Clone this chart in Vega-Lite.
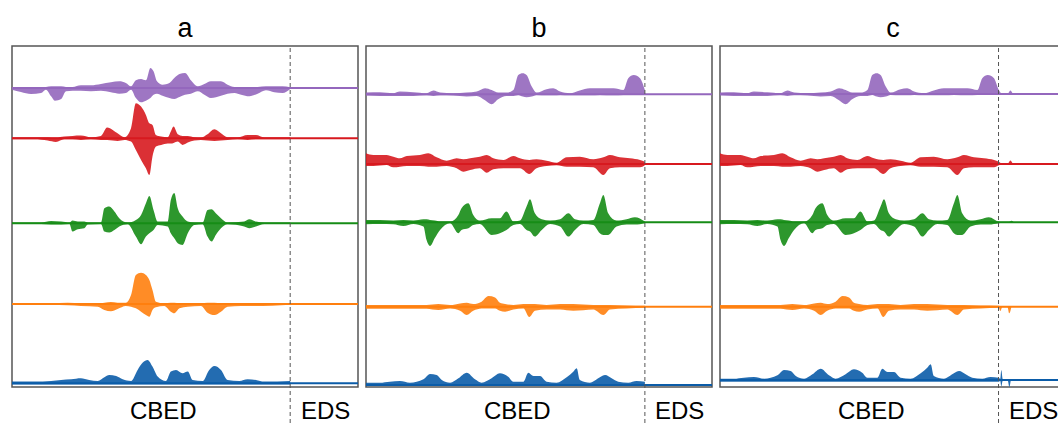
{
"$schema":"https://vega.github.io/schema/vega-lite/v6.json",
"padding":{"left":10,"top":15,"right":0,"bottom":0},
"background":"white",
"bounds":"flush",
"data":{"values":[
{"p":"a","s":"pu","b":299},{"p":"a","s":"re","b":248.7},{"p":"a","s":"gr","b":163.7},{"p":"a","s":"or","b":83},{"p":"a","s":"bl","b":3.7},
{"p":"b","s":"pu","b":292.7},{"p":"b","s":"re","b":223},{"p":"b","s":"gr","b":164.7},{"p":"b","s":"or","b":80.3},{"p":"b","s":"bl","b":2},
{"p":"c","s":"pu","b":293},{"p":"c","s":"re","b":223},{"p":"c","s":"gr","b":164.7},{"p":"c","s":"or","b":80.3},{"p":"c","s":"bl","b":7},
{"p":"a","d":80.4},{"p":"b","d":80.6},{"p":"c","d":80.5},
{"p":"a","s":"pu","x":0,"h":300,"l":297.3},{"p":"a","s":"pu","x":2.6,"h":300,"l":295},{"p":"a","s":"pu","x":5.5,"h":299,"l":293},{"p":"a","s":"pu","x":8.4,"h":299.7,"l":294},{"p":"a","s":"pu","x":9.8,"h":300,"l":297.3},{"p":"a","s":"pu","x":11.3,"h":300.7,"l":290.7},{"p":"a","s":"pu","x":12.4,"h":300.7,"l":286.3},{"p":"a","s":"pu","x":14.2,"h":300.7,"l":288},{"p":"a","s":"pu","x":15.6,"h":300,"l":295.7},{"p":"a","s":"pu","x":17.5,"h":300,"l":296.3},{"p":"a","s":"pu","x":19.9,"h":301.7,"l":296.3},{"p":"a","s":"pu","x":22.8,"h":301.7,"l":295.7},{"p":"a","s":"pu","x":25.7,"h":303,"l":296.3},{"p":"a","s":"pu","x":28.6,"h":304.7,"l":294.7},{"p":"a","s":"pu","x":31,"h":305.7,"l":293.3},{"p":"a","s":"pu","x":32.9,"h":304,"l":294},{"p":"a","s":"pu","x":34.4,"h":300.7,"l":297.3},{"p":"a","s":"pu","x":35.8,"h":306.7,"l":289},{"p":"a","s":"pu","x":37.3,"h":308,"l":284.7},{"p":"a","s":"pu","x":38.7,"h":306.7,"l":286.3},{"p":"a","s":"pu","x":40,"h":319,"l":289},{"p":"a","s":"pu","x":40.9,"h":315.7,"l":292.3},{"p":"a","s":"pu","x":41.9,"h":305.7,"l":293.3},{"p":"a","s":"pu","x":43.5,"h":302.3,"l":291.3},{"p":"a","s":"pu","x":45.5,"h":304,"l":289},{"p":"a","s":"pu","x":46.9,"h":309,"l":288},{"p":"a","s":"pu","x":48.4,"h":313,"l":290},{"p":"a","s":"pu","x":50,"h":314,"l":292.3},{"p":"a","s":"pu","x":51.7,"h":306.7,"l":293.3},{"p":"a","s":"pu","x":53.7,"h":300.7,"l":295.7},{"p":"a","s":"pu","x":55.6,"h":303,"l":292.3},{"p":"a","s":"pu","x":57.5,"h":305.7,"l":289},{"p":"a","s":"pu","x":60.4,"h":305.7,"l":291.3},{"p":"a","s":"pu","x":62.3,"h":302.3,"l":293.3},{"p":"a","s":"pu","x":64.3,"h":300,"l":294},{"p":"a","s":"pu","x":66.2,"h":299.7,"l":292.3},{"p":"a","s":"pu","x":68.6,"h":300,"l":290.7},{"p":"a","s":"pu","x":71,"h":300,"l":293.3},{"p":"a","s":"pu","x":73.4,"h":300.7,"l":296.7},{"p":"a","s":"pu","x":75.8,"h":300.7,"l":294.7},{"p":"a","s":"pu","x":78.2,"h":300.7,"l":294},{"p":"a","s":"pu","x":80.4,"h":299.7,"l":298},
{"p":"a","s":"re","x":0,"h":249.7,"l":247.7},{"p":"a","s":"re","x":6.5,"h":249.7,"l":247.7},{"p":"a","s":"re","x":10.3,"h":249.7,"l":246.4},{"p":"a","s":"re","x":12.7,"h":249.4,"l":245},{"p":"a","s":"re","x":15.1,"h":250.4,"l":247.7},{"p":"a","s":"re","x":17.5,"h":251.1,"l":247.7},{"p":"a","s":"re","x":19.9,"h":251.4,"l":247.1},{"p":"a","s":"re","x":22.8,"h":249.7,"l":247.7},{"p":"a","s":"re","x":25.7,"h":251.1,"l":247.1},{"p":"a","s":"re","x":27.5,"h":259.4,"l":247.1},{"p":"a","s":"re","x":29.1,"h":257.1,"l":246.4},{"p":"a","s":"re","x":30.5,"h":253.7,"l":246.1},{"p":"a","s":"re","x":32.5,"h":249.7,"l":247.1},{"p":"a","s":"re","x":34.4,"h":258.7,"l":245.4},{"p":"a","s":"re","x":35.8,"h":283.7,"l":237},{"p":"a","s":"re","x":37.3,"h":280.4,"l":227},{"p":"a","s":"re","x":38.7,"h":272.1,"l":218.7},{"p":"a","s":"re","x":39.7,"h":263.7,"l":212},{"p":"a","s":"re","x":40.6,"h":262.1,"l":230.4},{"p":"a","s":"re","x":41.6,"h":252,"l":240.4},{"p":"a","s":"re","x":43.1,"h":250.4,"l":242},{"p":"a","s":"re","x":45,"h":249.7,"l":243.4},{"p":"a","s":"re","x":45.9,"h":255.4,"l":243.4},{"p":"a","s":"re","x":46.7,"h":260.4,"l":244},{"p":"a","s":"re","x":47.9,"h":252.7,"l":245.4},{"p":"a","s":"re","x":49.3,"h":251.1,"l":242},{"p":"a","s":"re","x":50.8,"h":251.1,"l":244.4},{"p":"a","s":"re","x":52.7,"h":249.7,"l":246.4},{"p":"a","s":"re","x":54.6,"h":249.4,"l":247.1},{"p":"a","s":"re","x":56.5,"h":252.7,"l":246.4},{"p":"a","s":"re","x":58.5,"h":257.7,"l":246.1},{"p":"a","s":"re","x":60.4,"h":253.7,"l":246.4},{"p":"a","s":"re","x":62.3,"h":249.7,"l":247.1},{"p":"a","s":"re","x":65.2,"h":249.7,"l":247.7},{"p":"a","s":"re","x":68.1,"h":252.1,"l":247.1},{"p":"a","s":"re","x":70.5,"h":252.1,"l":247.7},{"p":"a","s":"re","x":72.9,"h":249.7,"l":247.7},{"p":"a","s":"re","x":80.4,"h":249.7,"l":247.7},
{"p":"a","s":"gr","x":0,"h":164.4,"l":163},{"p":"a","s":"gr","x":8.4,"h":164.4,"l":163},{"p":"a","s":"gr","x":11.3,"h":166,"l":162.4},{"p":"a","s":"gr","x":14.2,"h":165.4,"l":162.4},{"p":"a","s":"gr","x":16.6,"h":164.4,"l":163},{"p":"a","s":"gr","x":17.5,"h":166.4,"l":155.4},{"p":"a","s":"gr","x":19,"h":165.4,"l":157.7},{"p":"a","s":"gr","x":20.9,"h":165.4,"l":158.7},{"p":"a","s":"gr","x":21.9,"h":164.4,"l":162.4},{"p":"a","s":"gr","x":25.7,"h":164.4,"l":163},{"p":"a","s":"gr","x":26.7,"h":178.7,"l":155.4},{"p":"a","s":"gr","x":28.1,"h":180.4,"l":154.4},{"p":"a","s":"gr","x":29.6,"h":175.4,"l":157},{"p":"a","s":"gr","x":31,"h":168.7,"l":160.4},{"p":"a","s":"gr","x":33.4,"h":164.4,"l":162.7},{"p":"a","s":"gr","x":35.8,"h":167,"l":150.4},{"p":"a","s":"gr","x":37.3,"h":172,"l":142.7},{"p":"a","s":"gr","x":38.7,"h":183.7,"l":150.4},{"p":"a","s":"gr","x":39.7,"h":191,"l":153.7},{"p":"a","s":"gr","x":40.9,"h":177,"l":157},{"p":"a","s":"gr","x":42.1,"h":165.4,"l":162},{"p":"a","s":"gr","x":45,"h":165.4,"l":160.4},{"p":"a","s":"gr","x":45.9,"h":187,"l":153.7},{"p":"a","s":"gr","x":46.9,"h":194,"l":148.7},{"p":"a","s":"gr","x":47.9,"h":178.7,"l":143.7},{"p":"a","s":"gr","x":49.3,"h":170.4,"l":142},{"p":"a","s":"gr","x":50.8,"h":165.4,"l":153.7},{"p":"a","s":"gr","x":52.7,"h":164.4,"l":162},{"p":"a","s":"gr","x":55.1,"h":164.4,"l":162.7},{"p":"a","s":"gr","x":56.5,"h":177,"l":150.4},{"p":"a","s":"gr","x":57.7,"h":177.7,"l":145.4},{"p":"a","s":"gr","x":58.9,"h":173.7,"l":152},{"p":"a","s":"gr","x":60.4,"h":168.7,"l":158.7},{"p":"a","s":"gr","x":62.3,"h":164.4,"l":162.7},{"p":"a","s":"gr","x":67.1,"h":165.4,"l":160.4},{"p":"a","s":"gr","x":68.6,"h":167.7,"l":158.7},{"p":"a","s":"gr","x":70.5,"h":165.4,"l":160.4},{"p":"a","s":"gr","x":72.9,"h":164.4,"l":163},{"p":"a","s":"gr","x":80.4,"h":164.4,"l":163},
{"p":"a","s":"or","x":0,"h":83.7,"l":82.3},{"p":"a","s":"or","x":11.3,"h":83.7,"l":82.3},{"p":"a","s":"or","x":16.1,"h":84.3,"l":81.7},{"p":"a","s":"or","x":19.9,"h":83.7,"l":81},{"p":"a","s":"or","x":24.8,"h":83.7,"l":80.3},{"p":"a","s":"or","x":26.7,"h":84.3,"l":77},{"p":"a","s":"or","x":28.6,"h":85,"l":75.7},{"p":"a","s":"or","x":30.5,"h":84.3,"l":78},{"p":"a","s":"or","x":32.9,"h":84.3,"l":81},{"p":"a","s":"or","x":34.4,"h":92,"l":80.3},{"p":"a","s":"or","x":35.8,"h":112,"l":78.7},{"p":"a","s":"or","x":37.3,"h":114.3,"l":75.3},{"p":"a","s":"or","x":38.7,"h":112,"l":72},{"p":"a","s":"or","x":39.7,"h":107,"l":70.3},{"p":"a","s":"or","x":40.6,"h":97,"l":77},{"p":"a","s":"or","x":41.6,"h":85.3,"l":79.7},{"p":"a","s":"or","x":44,"h":83.7,"l":81},{"p":"a","s":"or","x":45.9,"h":84.3,"l":75.3},{"p":"a","s":"or","x":46.9,"h":84.3,"l":73.7},{"p":"a","s":"or","x":48.4,"h":83.7,"l":78.7},{"p":"a","s":"or","x":50.8,"h":83.7,"l":80.3},{"p":"a","s":"or","x":54.6,"h":83.7,"l":81},{"p":"a","s":"or","x":56.5,"h":84.3,"l":74.3},{"p":"a","s":"or","x":58.5,"h":84.3,"l":72},{"p":"a","s":"or","x":60.4,"h":83.7,"l":75.3},{"p":"a","s":"or","x":62.3,"h":83.7,"l":80.3},{"p":"a","s":"or","x":66.2,"h":83.7,"l":81},{"p":"a","s":"or","x":70,"h":83.7,"l":81},{"p":"a","s":"or","x":80.4,"h":83.7,"l":82.3},
{"p":"a","s":"bl","x":0,"h":5.4,"l":2.5},{"p":"a","s":"bl","x":6.5,"h":5.4,"l":2.5},{"p":"a","s":"bl","x":11.3,"h":6,"l":2.5},{"p":"a","s":"bl","x":14.2,"h":7,"l":2.5},{"p":"a","s":"bl","x":17.1,"h":7.7,"l":2.5},{"p":"a","s":"bl","x":19.9,"h":8.7,"l":2.5},{"p":"a","s":"bl","x":22.3,"h":7,"l":2.5},{"p":"a","s":"bl","x":24.8,"h":6,"l":2.5},{"p":"a","s":"bl","x":26.7,"h":9.7,"l":2.5},{"p":"a","s":"bl","x":28.1,"h":12,"l":2.5},{"p":"a","s":"bl","x":30.1,"h":11,"l":2.5},{"p":"a","s":"bl","x":32,"h":7.7,"l":2.5},{"p":"a","s":"bl","x":34.4,"h":6,"l":2.5},{"p":"a","s":"bl","x":36.3,"h":17,"l":2.5},{"p":"a","s":"bl","x":37.8,"h":24.4,"l":2.5},{"p":"a","s":"bl","x":39.2,"h":27,"l":2.5},{"p":"a","s":"bl","x":40.6,"h":20.4,"l":2.5},{"p":"a","s":"bl","x":42.1,"h":10.4,"l":2.5},{"p":"a","s":"bl","x":44.5,"h":6,"l":2.5},{"p":"a","s":"bl","x":45.9,"h":15.4,"l":2.5},{"p":"a","s":"bl","x":47.4,"h":17,"l":2.5},{"p":"a","s":"bl","x":49.3,"h":13.7,"l":2.5},{"p":"a","s":"bl","x":50.8,"h":15.4,"l":2.5},{"p":"a","s":"bl","x":52.2,"h":7,"l":2.5},{"p":"a","s":"bl","x":55.1,"h":6,"l":2.5},{"p":"a","s":"bl","x":57,"h":17,"l":2.5},{"p":"a","s":"bl","x":58.5,"h":21,"l":2.5},{"p":"a","s":"bl","x":60.4,"h":17,"l":2.5},{"p":"a","s":"bl","x":62.3,"h":7,"l":2.5},{"p":"a","s":"bl","x":65.7,"h":6,"l":2.5},{"p":"a","s":"bl","x":68.1,"h":7.7,"l":2.5},{"p":"a","s":"bl","x":70.5,"h":7,"l":2.5},{"p":"a","s":"bl","x":72.9,"h":5.4,"l":2.5},{"p":"a","s":"bl","x":80.4,"h":6,"l":2.5},
{"p":"b","s":"pu","x":0,"h":294.4,"l":291.4},{"p":"b","s":"pu","x":4,"h":294.7,"l":291},{"p":"b","s":"pu","x":7.9,"h":293.7,"l":291},{"p":"b","s":"pu","x":9.8,"h":295.4,"l":291},{"p":"b","s":"pu","x":13.7,"h":294.7,"l":291},{"p":"b","s":"pu","x":17.5,"h":293.7,"l":291.7},{"p":"b","s":"pu","x":19.5,"h":296.4,"l":291},{"p":"b","s":"pu","x":21.4,"h":294.4,"l":291.7},{"p":"b","s":"pu","x":25.2,"h":293.7,"l":291.4},{"p":"b","s":"pu","x":29.1,"h":294.4,"l":290.4},{"p":"b","s":"pu","x":32,"h":295.4,"l":291},{"p":"b","s":"pu","x":34.4,"h":298.7,"l":286.7},{"p":"b","s":"pu","x":36.3,"h":297,"l":282.7},{"p":"b","s":"pu","x":38.2,"h":294.4,"l":287.7},{"p":"b","s":"pu","x":40.6,"h":294.4,"l":291},{"p":"b","s":"pu","x":42.6,"h":297,"l":291},{"p":"b","s":"pu","x":44,"h":312,"l":292},{"p":"b","s":"pu","x":45.3,"h":313.7,"l":290.4},{"p":"b","s":"pu","x":46.4,"h":312,"l":289.7},{"p":"b","s":"pu","x":47.9,"h":300.4,"l":290.4},{"p":"b","s":"pu","x":49.3,"h":294.4,"l":292},{"p":"b","s":"pu","x":52.2,"h":297.7,"l":291.7},{"p":"b","s":"pu","x":54.1,"h":298.7,"l":291.7},{"p":"b","s":"pu","x":56.1,"h":295.4,"l":292},{"p":"b","s":"pu","x":58.9,"h":293.7,"l":291.7},{"p":"b","s":"pu","x":61.8,"h":296.4,"l":291.7},{"p":"b","s":"pu","x":64.7,"h":298.7,"l":291.7},{"p":"b","s":"pu","x":67.6,"h":298.7,"l":292},{"p":"b","s":"pu","x":71.5,"h":298.7,"l":291.7},{"p":"b","s":"pu","x":74.4,"h":297,"l":292},{"p":"b","s":"pu","x":75.8,"h":308.7,"l":292},{"p":"b","s":"pu","x":77.4,"h":312,"l":293},{"p":"b","s":"pu","x":79.2,"h":308.7,"l":293},{"p":"b","s":"pu","x":80.6,"h":297,"l":292},
{"p":"b","s":"re","x":0,"h":233.7,"l":221},{"p":"b","s":"re","x":2.1,"h":232,"l":221},{"p":"b","s":"re","x":5.9,"h":232,"l":222},{"p":"b","s":"re","x":7.9,"h":230.3,"l":219.7},{"p":"b","s":"re","x":9.8,"h":228.7,"l":220.3},{"p":"b","s":"re","x":11.8,"h":231,"l":221},{"p":"b","s":"re","x":15.6,"h":232,"l":221},{"p":"b","s":"re","x":18,"h":233.7,"l":220.3},{"p":"b","s":"re","x":20.4,"h":229.7,"l":220.3},{"p":"b","s":"re","x":23.3,"h":226.3,"l":221},{"p":"b","s":"re","x":26.2,"h":228.7,"l":218.7},{"p":"b","s":"re","x":28.1,"h":227.7,"l":215.3},{"p":"b","s":"re","x":30.1,"h":228.7,"l":217},{"p":"b","s":"re","x":32.9,"h":230.3,"l":218.7},{"p":"b","s":"re","x":34.9,"h":232,"l":214.3},{"p":"b","s":"re","x":36.8,"h":228.7,"l":217.7},{"p":"b","s":"re","x":39.7,"h":227,"l":218.7},{"p":"b","s":"re","x":42.6,"h":231,"l":218.7},{"p":"b","s":"re","x":44.5,"h":228.7,"l":218.7},{"p":"b","s":"re","x":47.2,"h":227,"l":213},{"p":"b","s":"re","x":49.3,"h":227.7,"l":218.7},{"p":"b","s":"re","x":52.2,"h":226.3,"l":221},{"p":"b","s":"re","x":55.1,"h":224.3,"l":221.7},{"p":"b","s":"re","x":58,"h":229.7,"l":220.3},{"p":"b","s":"re","x":61.8,"h":230.3,"l":220.3},{"p":"b","s":"re","x":65.7,"h":227.7,"l":219.7},{"p":"b","s":"re","x":68.6,"h":229.7,"l":212},{"p":"b","s":"re","x":70.5,"h":232,"l":218.7},{"p":"b","s":"re","x":73.4,"h":229.7,"l":219.7},{"p":"b","s":"re","x":76.3,"h":228.7,"l":219.7},{"p":"b","s":"re","x":79.2,"h":227,"l":219.7},{"p":"b","s":"re","x":80.6,"h":225.3,"l":221.7},
{"p":"b","s":"gr","x":0,"h":167,"l":162.7},{"p":"b","s":"gr","x":4,"h":167,"l":163},{"p":"b","s":"gr","x":7.9,"h":166.4,"l":162.7},{"p":"b","s":"gr","x":10.8,"h":167,"l":161},{"p":"b","s":"gr","x":13.7,"h":166.4,"l":163},{"p":"b","s":"gr","x":16.6,"h":167.7,"l":160.4},{"p":"b","s":"gr","x":17.5,"h":167.7,"l":147},{"p":"b","s":"gr","x":18.5,"h":167,"l":141},{"p":"b","s":"gr","x":19.9,"h":166.4,"l":149},{"p":"b","s":"gr","x":21.4,"h":165.4,"l":157},{"p":"b","s":"gr","x":24.3,"h":165.4,"l":163.7},{"p":"b","s":"gr","x":26.7,"h":172,"l":153.7},{"p":"b","s":"gr","x":27.6,"h":178.7,"l":157},{"p":"b","s":"gr","x":29.6,"h":183.7,"l":158.7},{"p":"b","s":"gr","x":31,"h":172,"l":162},{"p":"b","s":"gr","x":32.9,"h":166.4,"l":163},{"p":"b","s":"gr","x":36.3,"h":168.7,"l":152},{"p":"b","s":"gr","x":38.7,"h":168.7,"l":153.7},{"p":"b","s":"gr","x":40.6,"h":175.4,"l":157},{"p":"b","s":"gr","x":42.6,"h":165.4,"l":162},{"p":"b","s":"gr","x":44.5,"h":166.4,"l":163},{"p":"b","s":"gr","x":46.4,"h":180.4,"l":157},{"p":"b","s":"gr","x":47.4,"h":187.7,"l":155.4},{"p":"b","s":"gr","x":48.8,"h":173.7,"l":150.4},{"p":"b","s":"gr","x":50.8,"h":167.7,"l":157},{"p":"b","s":"gr","x":53.2,"h":166.4,"l":163},{"p":"b","s":"gr","x":56.1,"h":167.7,"l":160.4},{"p":"b","s":"gr","x":58.5,"h":173.7,"l":150.4},{"p":"b","s":"gr","x":60.4,"h":167.7,"l":157},{"p":"b","s":"gr","x":62.8,"h":166.4,"l":163},{"p":"b","s":"gr","x":65.7,"h":167,"l":162},{"p":"b","s":"gr","x":67.6,"h":183.7,"l":153.7},{"p":"b","s":"gr","x":68.6,"h":192,"l":152},{"p":"b","s":"gr","x":70,"h":173.7,"l":152},{"p":"b","s":"gr","x":72.4,"h":166.4,"l":160.4},{"p":"b","s":"gr","x":75.3,"h":167.7,"l":162.4},{"p":"b","s":"gr","x":77.7,"h":169.7,"l":162.4},{"p":"b","s":"gr","x":80.6,"h":165.4,"l":163.7},
{"p":"b","s":"or","x":0,"h":82,"l":78.3},{"p":"b","s":"or","x":7.9,"h":82,"l":78.3},{"p":"b","s":"or","x":17.5,"h":82,"l":78.3},{"p":"b","s":"or","x":20.9,"h":83,"l":77},{"p":"b","s":"or","x":24.3,"h":82,"l":78.6},{"p":"b","s":"or","x":27.2,"h":83.6,"l":76.3},{"p":"b","s":"or","x":29.1,"h":84.3,"l":72},{"p":"b","s":"or","x":31,"h":83,"l":76.3},{"p":"b","s":"or","x":33.4,"h":85.3,"l":78.6},{"p":"b","s":"or","x":35.4,"h":91,"l":78.6},{"p":"b","s":"or","x":37.3,"h":89.6,"l":78.6},{"p":"b","s":"or","x":38.7,"h":84.3,"l":76.3},{"p":"b","s":"or","x":40.2,"h":83,"l":75.3},{"p":"b","s":"or","x":42.6,"h":82,"l":77.6},{"p":"b","s":"or","x":45.5,"h":83,"l":78.6},{"p":"b","s":"or","x":47.2,"h":83,"l":70},{"p":"b","s":"or","x":48.8,"h":83,"l":76.3},{"p":"b","s":"or","x":52.2,"h":82,"l":77.6},{"p":"b","s":"or","x":56.1,"h":83,"l":77.6},{"p":"b","s":"or","x":59.9,"h":83,"l":76.3},{"p":"b","s":"or","x":65.7,"h":82,"l":77.6},{"p":"b","s":"or","x":68.6,"h":82,"l":72},{"p":"b","s":"or","x":70.5,"h":82,"l":77.6},{"p":"b","s":"or","x":75.3,"h":81.6,"l":78.6},{"p":"b","s":"or","x":80.6,"h":81.3,"l":79.3},
{"p":"b","s":"bl","x":0,"h":4.3,"l":1},{"p":"b","s":"bl","x":4,"h":4.3,"l":1},{"p":"b","s":"bl","x":6.9,"h":5.3,"l":1},{"p":"b","s":"bl","x":9.8,"h":6,"l":1},{"p":"b","s":"bl","x":12.7,"h":4.3,"l":1},{"p":"b","s":"bl","x":16.6,"h":7.7,"l":1},{"p":"b","s":"bl","x":18.5,"h":13,"l":1},{"p":"b","s":"bl","x":20.4,"h":12,"l":1},{"p":"b","s":"bl","x":21.9,"h":7,"l":1},{"p":"b","s":"bl","x":24.3,"h":4.3,"l":1},{"p":"b","s":"bl","x":26.7,"h":8.7,"l":1},{"p":"b","s":"bl","x":29.1,"h":14.3,"l":1},{"p":"b","s":"bl","x":31.5,"h":7.7,"l":1},{"p":"b","s":"bl","x":33.4,"h":4.3,"l":1},{"p":"b","s":"bl","x":36.3,"h":8.7,"l":1},{"p":"b","s":"bl","x":38.7,"h":13.7,"l":1},{"p":"b","s":"bl","x":41.1,"h":10.3,"l":1},{"p":"b","s":"bl","x":42.6,"h":5.3,"l":1},{"p":"b","s":"bl","x":45.5,"h":5.3,"l":1},{"p":"b","s":"bl","x":46.9,"h":14.3,"l":1},{"p":"b","s":"bl","x":48.4,"h":11,"l":1},{"p":"b","s":"bl","x":50.3,"h":11,"l":1},{"p":"b","s":"bl","x":52.2,"h":5.3,"l":1},{"p":"b","s":"bl","x":55.1,"h":4.3,"l":1},{"p":"b","s":"bl","x":58,"h":9.7,"l":1},{"p":"b","s":"bl","x":59.9,"h":15.3,"l":1},{"p":"b","s":"bl","x":60.9,"h":18.7,"l":1},{"p":"b","s":"bl","x":61.8,"h":7,"l":1},{"p":"b","s":"bl","x":64.7,"h":4.3,"l":1},{"p":"b","s":"bl","x":67.6,"h":9.7,"l":1},{"p":"b","s":"bl","x":69.1,"h":12,"l":1},{"p":"b","s":"bl","x":71,"h":8.7,"l":1},{"p":"b","s":"bl","x":72.9,"h":5.3,"l":1},{"p":"b","s":"bl","x":75.8,"h":4.3,"l":1},{"p":"b","s":"bl","x":78.2,"h":6,"l":1},{"p":"b","s":"bl","x":80.6,"h":5.3,"l":1},
{"p":"c","s":"pu","x":0,"h":294.4,"l":291.4},{"p":"c","s":"pu","x":4,"h":294.7,"l":291},{"p":"c","s":"pu","x":7.9,"h":293.7,"l":291},{"p":"c","s":"pu","x":9.8,"h":295.4,"l":291},{"p":"c","s":"pu","x":13.7,"h":294.7,"l":291},{"p":"c","s":"pu","x":17.5,"h":293.7,"l":291.7},{"p":"c","s":"pu","x":19.5,"h":296.4,"l":291},{"p":"c","s":"pu","x":21.4,"h":294.4,"l":291.7},{"p":"c","s":"pu","x":25.2,"h":293.7,"l":291.4},{"p":"c","s":"pu","x":29.1,"h":294.4,"l":290.4},{"p":"c","s":"pu","x":32,"h":295.4,"l":291},{"p":"c","s":"pu","x":34.4,"h":298.7,"l":286.7},{"p":"c","s":"pu","x":36.3,"h":297,"l":282.7},{"p":"c","s":"pu","x":38.2,"h":294.4,"l":287.7},{"p":"c","s":"pu","x":40.6,"h":294.4,"l":291},{"p":"c","s":"pu","x":42.6,"h":297,"l":291},{"p":"c","s":"pu","x":44,"h":312,"l":292},{"p":"c","s":"pu","x":45.3,"h":313.7,"l":290.4},{"p":"c","s":"pu","x":46.4,"h":312,"l":289.7},{"p":"c","s":"pu","x":47.9,"h":300.4,"l":290.4},{"p":"c","s":"pu","x":49.3,"h":294.4,"l":292},{"p":"c","s":"pu","x":52.2,"h":297.7,"l":291.7},{"p":"c","s":"pu","x":54.1,"h":298.7,"l":291.7},{"p":"c","s":"pu","x":56.1,"h":295.4,"l":292},{"p":"c","s":"pu","x":58.9,"h":293.7,"l":291.7},{"p":"c","s":"pu","x":61.8,"h":296.4,"l":291.7},{"p":"c","s":"pu","x":64.7,"h":298.7,"l":291.7},{"p":"c","s":"pu","x":67.6,"h":298.7,"l":292},{"p":"c","s":"pu","x":71.5,"h":298.7,"l":291.7},{"p":"c","s":"pu","x":74.4,"h":297,"l":292},{"p":"c","s":"pu","x":75.8,"h":308.7,"l":292},{"p":"c","s":"pu","x":77.4,"h":312,"l":293},{"p":"c","s":"pu","x":79.2,"h":308.7,"l":293},{"p":"c","s":"pu","x":80.6,"h":297,"l":292},{"p":"c","s":"pu","x":81.4,"h":293.5,"l":292.5},{"p":"c","s":"pu","x":83.2,"h":293.5,"l":292.5},{"p":"c","s":"pu","x":83.9,"h":296.5,"l":292.5},{"p":"c","s":"pu","x":84.6,"h":293.5,"l":292.5},
{"p":"c","s":"re","x":0,"h":233.7,"l":221},{"p":"c","s":"re","x":2.1,"h":232,"l":221},{"p":"c","s":"re","x":5.9,"h":232,"l":222},{"p":"c","s":"re","x":7.9,"h":230.3,"l":219.7},{"p":"c","s":"re","x":9.8,"h":228.7,"l":220.3},{"p":"c","s":"re","x":11.8,"h":231,"l":221},{"p":"c","s":"re","x":15.6,"h":232,"l":221},{"p":"c","s":"re","x":18,"h":233.7,"l":220.3},{"p":"c","s":"re","x":20.4,"h":229.7,"l":220.3},{"p":"c","s":"re","x":23.3,"h":226.3,"l":221},{"p":"c","s":"re","x":26.2,"h":228.7,"l":218.7},{"p":"c","s":"re","x":28.1,"h":227.7,"l":215.3},{"p":"c","s":"re","x":30.1,"h":228.7,"l":217},{"p":"c","s":"re","x":32.9,"h":230.3,"l":218.7},{"p":"c","s":"re","x":34.9,"h":232,"l":214.3},{"p":"c","s":"re","x":36.8,"h":228.7,"l":217.7},{"p":"c","s":"re","x":39.7,"h":227,"l":218.7},{"p":"c","s":"re","x":42.6,"h":231,"l":218.7},{"p":"c","s":"re","x":44.5,"h":228.7,"l":218.7},{"p":"c","s":"re","x":47.2,"h":227,"l":213},{"p":"c","s":"re","x":49.3,"h":227.7,"l":218.7},{"p":"c","s":"re","x":52.2,"h":226.3,"l":221},{"p":"c","s":"re","x":55.1,"h":224.3,"l":221.7},{"p":"c","s":"re","x":58,"h":229.7,"l":220.3},{"p":"c","s":"re","x":61.8,"h":230.3,"l":220.3},{"p":"c","s":"re","x":65.7,"h":227.7,"l":219.7},{"p":"c","s":"re","x":68.6,"h":229.7,"l":212},{"p":"c","s":"re","x":70.5,"h":232,"l":218.7},{"p":"c","s":"re","x":73.4,"h":229.7,"l":219.7},{"p":"c","s":"re","x":76.3,"h":228.7,"l":219.7},{"p":"c","s":"re","x":79.2,"h":227,"l":219.7},{"p":"c","s":"re","x":80.6,"h":225.3,"l":221.7},{"p":"c","s":"re","x":81.4,"h":223.5,"l":222.5},{"p":"c","s":"re","x":83.2,"h":223.5,"l":222.5},{"p":"c","s":"re","x":83.9,"h":226.5,"l":222.5},{"p":"c","s":"re","x":84.6,"h":223.5,"l":222.5},
{"p":"c","s":"gr","x":0,"h":167,"l":162.7},{"p":"c","s":"gr","x":4,"h":167,"l":163},{"p":"c","s":"gr","x":7.9,"h":166.4,"l":162.7},{"p":"c","s":"gr","x":10.8,"h":167,"l":161},{"p":"c","s":"gr","x":13.7,"h":166.4,"l":163},{"p":"c","s":"gr","x":16.6,"h":167.7,"l":160.4},{"p":"c","s":"gr","x":17.5,"h":167.7,"l":147},{"p":"c","s":"gr","x":18.5,"h":167,"l":141},{"p":"c","s":"gr","x":19.9,"h":166.4,"l":149},{"p":"c","s":"gr","x":21.4,"h":165.4,"l":157},{"p":"c","s":"gr","x":24.3,"h":165.4,"l":163.7},{"p":"c","s":"gr","x":26.7,"h":172,"l":153.7},{"p":"c","s":"gr","x":27.6,"h":178.7,"l":157},{"p":"c","s":"gr","x":29.6,"h":183.7,"l":158.7},{"p":"c","s":"gr","x":31,"h":172,"l":162},{"p":"c","s":"gr","x":32.9,"h":166.4,"l":163},{"p":"c","s":"gr","x":36.3,"h":168.7,"l":152},{"p":"c","s":"gr","x":38.7,"h":168.7,"l":153.7},{"p":"c","s":"gr","x":40.6,"h":175.4,"l":157},{"p":"c","s":"gr","x":42.6,"h":165.4,"l":162},{"p":"c","s":"gr","x":44.5,"h":166.4,"l":163},{"p":"c","s":"gr","x":46.4,"h":180.4,"l":157},{"p":"c","s":"gr","x":47.4,"h":187.7,"l":155.4},{"p":"c","s":"gr","x":48.8,"h":173.7,"l":150.4},{"p":"c","s":"gr","x":50.8,"h":167.7,"l":157},{"p":"c","s":"gr","x":53.2,"h":166.4,"l":163},{"p":"c","s":"gr","x":56.1,"h":167.7,"l":160.4},{"p":"c","s":"gr","x":58.5,"h":173.7,"l":150.4},{"p":"c","s":"gr","x":60.4,"h":167.7,"l":157},{"p":"c","s":"gr","x":62.8,"h":166.4,"l":163},{"p":"c","s":"gr","x":65.7,"h":167,"l":162},{"p":"c","s":"gr","x":67.6,"h":183.7,"l":153.7},{"p":"c","s":"gr","x":68.6,"h":192,"l":152},{"p":"c","s":"gr","x":70,"h":173.7,"l":152},{"p":"c","s":"gr","x":72.4,"h":166.4,"l":160.4},{"p":"c","s":"gr","x":75.3,"h":167.7,"l":162.4},{"p":"c","s":"gr","x":77.7,"h":169.7,"l":162.4},{"p":"c","s":"gr","x":80.6,"h":165.4,"l":163.7},{"p":"c","s":"gr","x":81.4,"h":165.2,"l":164.2},{"p":"c","s":"gr","x":83.6,"h":165.2,"l":164.2},{"p":"c","s":"gr","x":84.2,"h":166.2,"l":164.2},{"p":"c","s":"gr","x":84.8,"h":165.2,"l":164.2},
{"p":"c","s":"or","x":0,"h":82,"l":78.3},{"p":"c","s":"or","x":7.9,"h":82,"l":78.3},{"p":"c","s":"or","x":17.5,"h":82,"l":78.3},{"p":"c","s":"or","x":20.9,"h":83,"l":77},{"p":"c","s":"or","x":24.3,"h":82,"l":78.6},{"p":"c","s":"or","x":27.2,"h":83.6,"l":76.3},{"p":"c","s":"or","x":29.1,"h":84.3,"l":72},{"p":"c","s":"or","x":31,"h":83,"l":76.3},{"p":"c","s":"or","x":33.4,"h":85.3,"l":78.6},{"p":"c","s":"or","x":35.4,"h":91,"l":78.6},{"p":"c","s":"or","x":37.3,"h":89.6,"l":78.6},{"p":"c","s":"or","x":38.7,"h":84.3,"l":76.3},{"p":"c","s":"or","x":40.2,"h":83,"l":75.3},{"p":"c","s":"or","x":42.6,"h":82,"l":77.6},{"p":"c","s":"or","x":45.5,"h":83,"l":78.6},{"p":"c","s":"or","x":47.2,"h":83,"l":70},{"p":"c","s":"or","x":48.8,"h":83,"l":76.3},{"p":"c","s":"or","x":52.2,"h":82,"l":77.6},{"p":"c","s":"or","x":56.1,"h":83,"l":77.6},{"p":"c","s":"or","x":59.9,"h":83,"l":76.3},{"p":"c","s":"or","x":65.7,"h":82,"l":77.6},{"p":"c","s":"or","x":68.6,"h":82,"l":72},{"p":"c","s":"or","x":70.5,"h":82,"l":77.6},{"p":"c","s":"or","x":75.3,"h":81.6,"l":78.6},{"p":"c","s":"or","x":80.6,"h":81.3,"l":79.3},{"p":"c","s":"or","x":81,"h":81,"l":76},{"p":"c","s":"or","x":81.6,"h":80.8,"l":79.8},{"p":"c","s":"or","x":83.1,"h":80.8,"l":79.8},{"p":"c","s":"or","x":83.6,"h":80.8,"l":73.7},{"p":"c","s":"or","x":84.2,"h":80.8,"l":79.8},
{"p":"c","s":"bl","x":0,"h":8.3,"l":5.3},{"p":"c","s":"bl","x":4,"h":8.3,"l":5.3},{"p":"c","s":"bl","x":6.9,"h":9.3,"l":5.3},{"p":"c","s":"bl","x":9.8,"h":10,"l":5.3},{"p":"c","s":"bl","x":12.7,"h":8.3,"l":5.3},{"p":"c","s":"bl","x":16.6,"h":11.7,"l":5.3},{"p":"c","s":"bl","x":18.5,"h":17,"l":5.3},{"p":"c","s":"bl","x":20.4,"h":16,"l":5.3},{"p":"c","s":"bl","x":21.9,"h":11,"l":5.3},{"p":"c","s":"bl","x":24.3,"h":8.3,"l":5.3},{"p":"c","s":"bl","x":26.7,"h":12.7,"l":5.3},{"p":"c","s":"bl","x":29.1,"h":18.3,"l":5.3},{"p":"c","s":"bl","x":31.5,"h":11.7,"l":5.3},{"p":"c","s":"bl","x":33.4,"h":8.3,"l":5.3},{"p":"c","s":"bl","x":36.3,"h":12.7,"l":5.3},{"p":"c","s":"bl","x":38.7,"h":17.7,"l":5.3},{"p":"c","s":"bl","x":41.1,"h":14.3,"l":5.3},{"p":"c","s":"bl","x":42.6,"h":9.3,"l":5.3},{"p":"c","s":"bl","x":45.5,"h":9.3,"l":5.3},{"p":"c","s":"bl","x":46.9,"h":18.3,"l":5.3},{"p":"c","s":"bl","x":48.4,"h":15,"l":5.3},{"p":"c","s":"bl","x":50.3,"h":15,"l":5.3},{"p":"c","s":"bl","x":52.2,"h":9.3,"l":5.3},{"p":"c","s":"bl","x":55.1,"h":8.3,"l":5.3},{"p":"c","s":"bl","x":58,"h":13.7,"l":5.3},{"p":"c","s":"bl","x":59.9,"h":19.3,"l":5.3},{"p":"c","s":"bl","x":60.9,"h":22.7,"l":5.3},{"p":"c","s":"bl","x":61.8,"h":11,"l":5.3},{"p":"c","s":"bl","x":64.7,"h":8.3,"l":5.3},{"p":"c","s":"bl","x":67.6,"h":13.7,"l":5.3},{"p":"c","s":"bl","x":69.1,"h":16,"l":5.3},{"p":"c","s":"bl","x":71,"h":12.7,"l":5.3},{"p":"c","s":"bl","x":72.9,"h":9.3,"l":5.3},{"p":"c","s":"bl","x":75.8,"h":8.3,"l":5.3},{"p":"c","s":"bl","x":78.2,"h":10,"l":5.3},{"p":"c","s":"bl","x":80.6,"h":9.3,"l":5.3},{"p":"c","s":"bl","x":81,"h":8,"l":6},{"p":"c","s":"bl","x":81.3,"h":17,"l":0.5},{"p":"c","s":"bl","x":81.7,"h":8,"l":6},{"p":"c","s":"bl","x":83.2,"h":8,"l":6},{"p":"c","s":"bl","x":83.6,"h":8,"l":0},{"p":"c","s":"bl","x":84,"h":8,"l":6}
]},
"facet":{"column":{"field":"p","type":"nominal","title":null,"header":{"labelFontSize":27,"labelFont":"Liberation Sans","labelColor":"#000","labelPadding":3}}},
"spacing":8,
"spec":{
"width":346,"height":341,
"layer":[
{"transform":[{"filter":"isValid(datum.h)"}],
 "mark":{"type":"area","fillOpacity":0.9,"interpolate":"monotone"},
 "encoding":{
  "x":{"field":"x","type":"quantitative","scale":{"domain":[0,100],"nice":false,"zero":false},
       "axis":{"values":[43.6,90.5],"labelExpr":"datum.value < 60 ? 'CBED' : 'EDS'","ticks":false,"domain":false,"grid":false,"title":null,"labelFontSize":24,"labelFont":"Liberation Sans","labelColor":"#000","labelPadding":12,"labelFlush":false,"labelOverlap":false}},
  "y":{"field":"h","type":"quantitative","stack":null,"scale":{"domain":[0,341],"nice":false,"zero":false},"axis":null},
  "y2":{"field":"l"},
  "color":{"field":"s","type":"nominal","scale":{"domain":["pu","re","gr","or","bl"],"range":["#9467bd","#d7191f","#168c16","#ff7f0e","#0b5ca8"]},"legend":null}
 }},
{"transform":[{"filter":"isValid(datum.b)"}],
 "mark":{"type":"rule","strokeWidth":2},
 "encoding":{
  "x":{"datum":0,"type":"quantitative"},"x2":{"datum":100},
  "y":{"field":"b","type":"quantitative"},
  "color":{"field":"s","type":"nominal","legend":null}
 }},
{"transform":[{"filter":"isValid(datum.d)"}],
 "mark":{"type":"rule","color":"#555","strokeWidth":1,"strokeDash":[4,3]},
 "encoding":{
  "x":{"field":"d","type":"quantitative"},
  "y":{"datum":-50,"type":"quantitative"},"y2":{"datum":341}
 }}
]},
"config":{"view":{"stroke":"#555","strokeWidth":1.5}}
}
